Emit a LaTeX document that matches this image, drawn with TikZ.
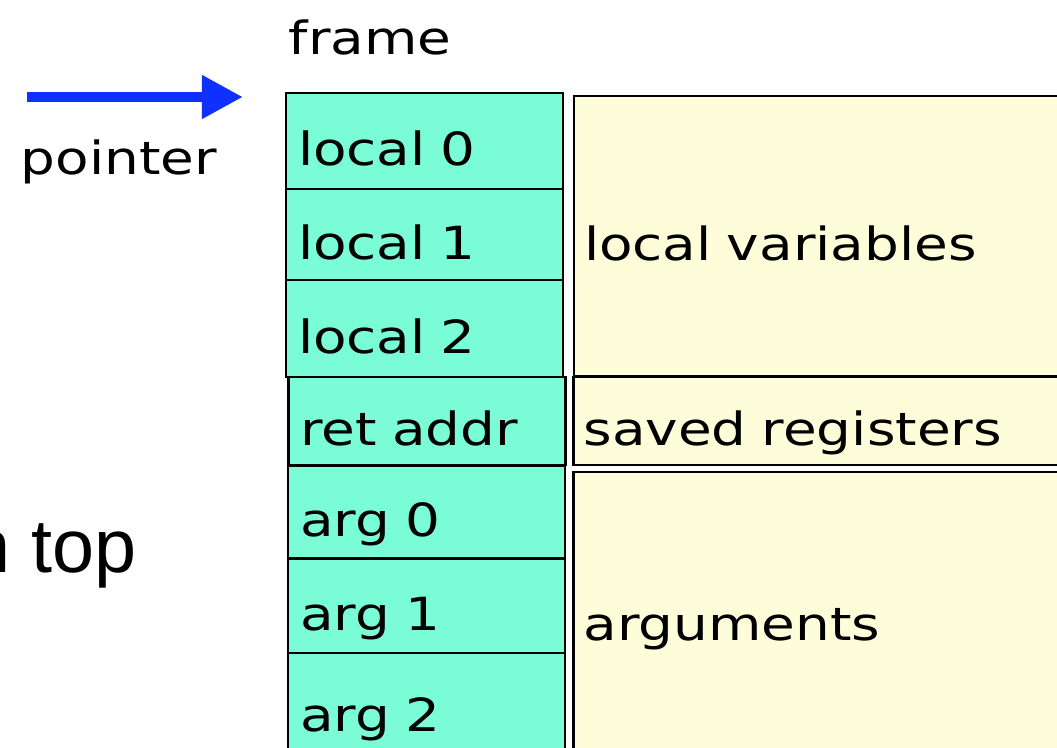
\documentclass[tikz,border=0pt]{standalone}
\usepackage{fontspec}
\setmainfont{Liberation Sans}
\newfontfamily\hand[FakeStretch=1.2, WordSpace=2.2]{DejaVu Sans}
\newcommand\handfont{\hand\fontsize{13}{15}\selectfont}
\usetikzlibrary{arrows.meta}

\definecolor{slotgreen}{RGB}{122,253,214}
\definecolor{areayellow}{RGB}{254,253,218}
\definecolor{ptrblue}{RGB}{16,48,255}

\begin{document}
\begin{tikzpicture}[x=0.1mm, y=-0.1mm,
  handtext/.style={font=\handfont},
  slot/.style={draw, line width=0.6pt, fill=slotgreen, handtext,
    inner xsep=0.12cm, inner ysep=0pt, text width=2.53cm, align=left,
    text height=0.5cm, text depth=0cm},
  area/.style={draw, line width=0.6pt, fill=areayellow, handtext,
    inner xsep=0.1cm, inner ysep=0pt, text width=4.71cm, align=left,
    text height=0.5cm, text depth=0cm},
  ptrarrow/.style={ptrblue, line width=3.1pt,
    -{Triangle[length=0.41cm, width=0.41cm]}}]
\useasboundingbox (0,0) rectangle (1057,748);

% the areas on the right
\node[area, minimum height=2.80cm] (locvars) at (819.5,236) {local variables};
\node[area, minimum height=0.88cm] (saved) at (819,421) {saved registers};
\node[area, minimum height=2.88cm] (args) at (819,616) {arguments};

% the slots of the frame
\node[slot, minimum height=0.96cm] (loc0) at (424.5,141) {local 0};
\node[slot, minimum height=0.91cm] (loc1) at (424.5,234.5) {local 1};
\node[slot, minimum height=0.97cm] (loc2) at (424.5,328.5) {local 2};
\node[slot, minimum height=0.88cm] (ret) at (427,421) {ret addr};
\node[slot, minimum height=0.93cm] (arg0) at (426.5,512) {arg 0};
\node[slot, minimum height=0.95cm] (arg1) at (426.5,606) {arg 1};
\node[slot, minimum height=1.07cm] (arg2) at (426.5,706.5) {arg 2};

\node[handtext, anchor=base west, inner sep=0pt] (frame) at (288,55) {frame};
\node[handtext, anchor=base west, inner sep=0pt] (pointer) at (20,175) {pointer};
\node[font=\fontsize{21.5}{24}\selectfont, anchor=base east, inner sep=0pt] (top) at (137,573) {n top};

% frame pointer
\coordinate (ptrtail) at (27,97);
\coordinate (ptrhead) at (243,97);
\draw[ptrarrow] (ptrtail) -- (ptrhead);
\end{tikzpicture}
\end{document}
